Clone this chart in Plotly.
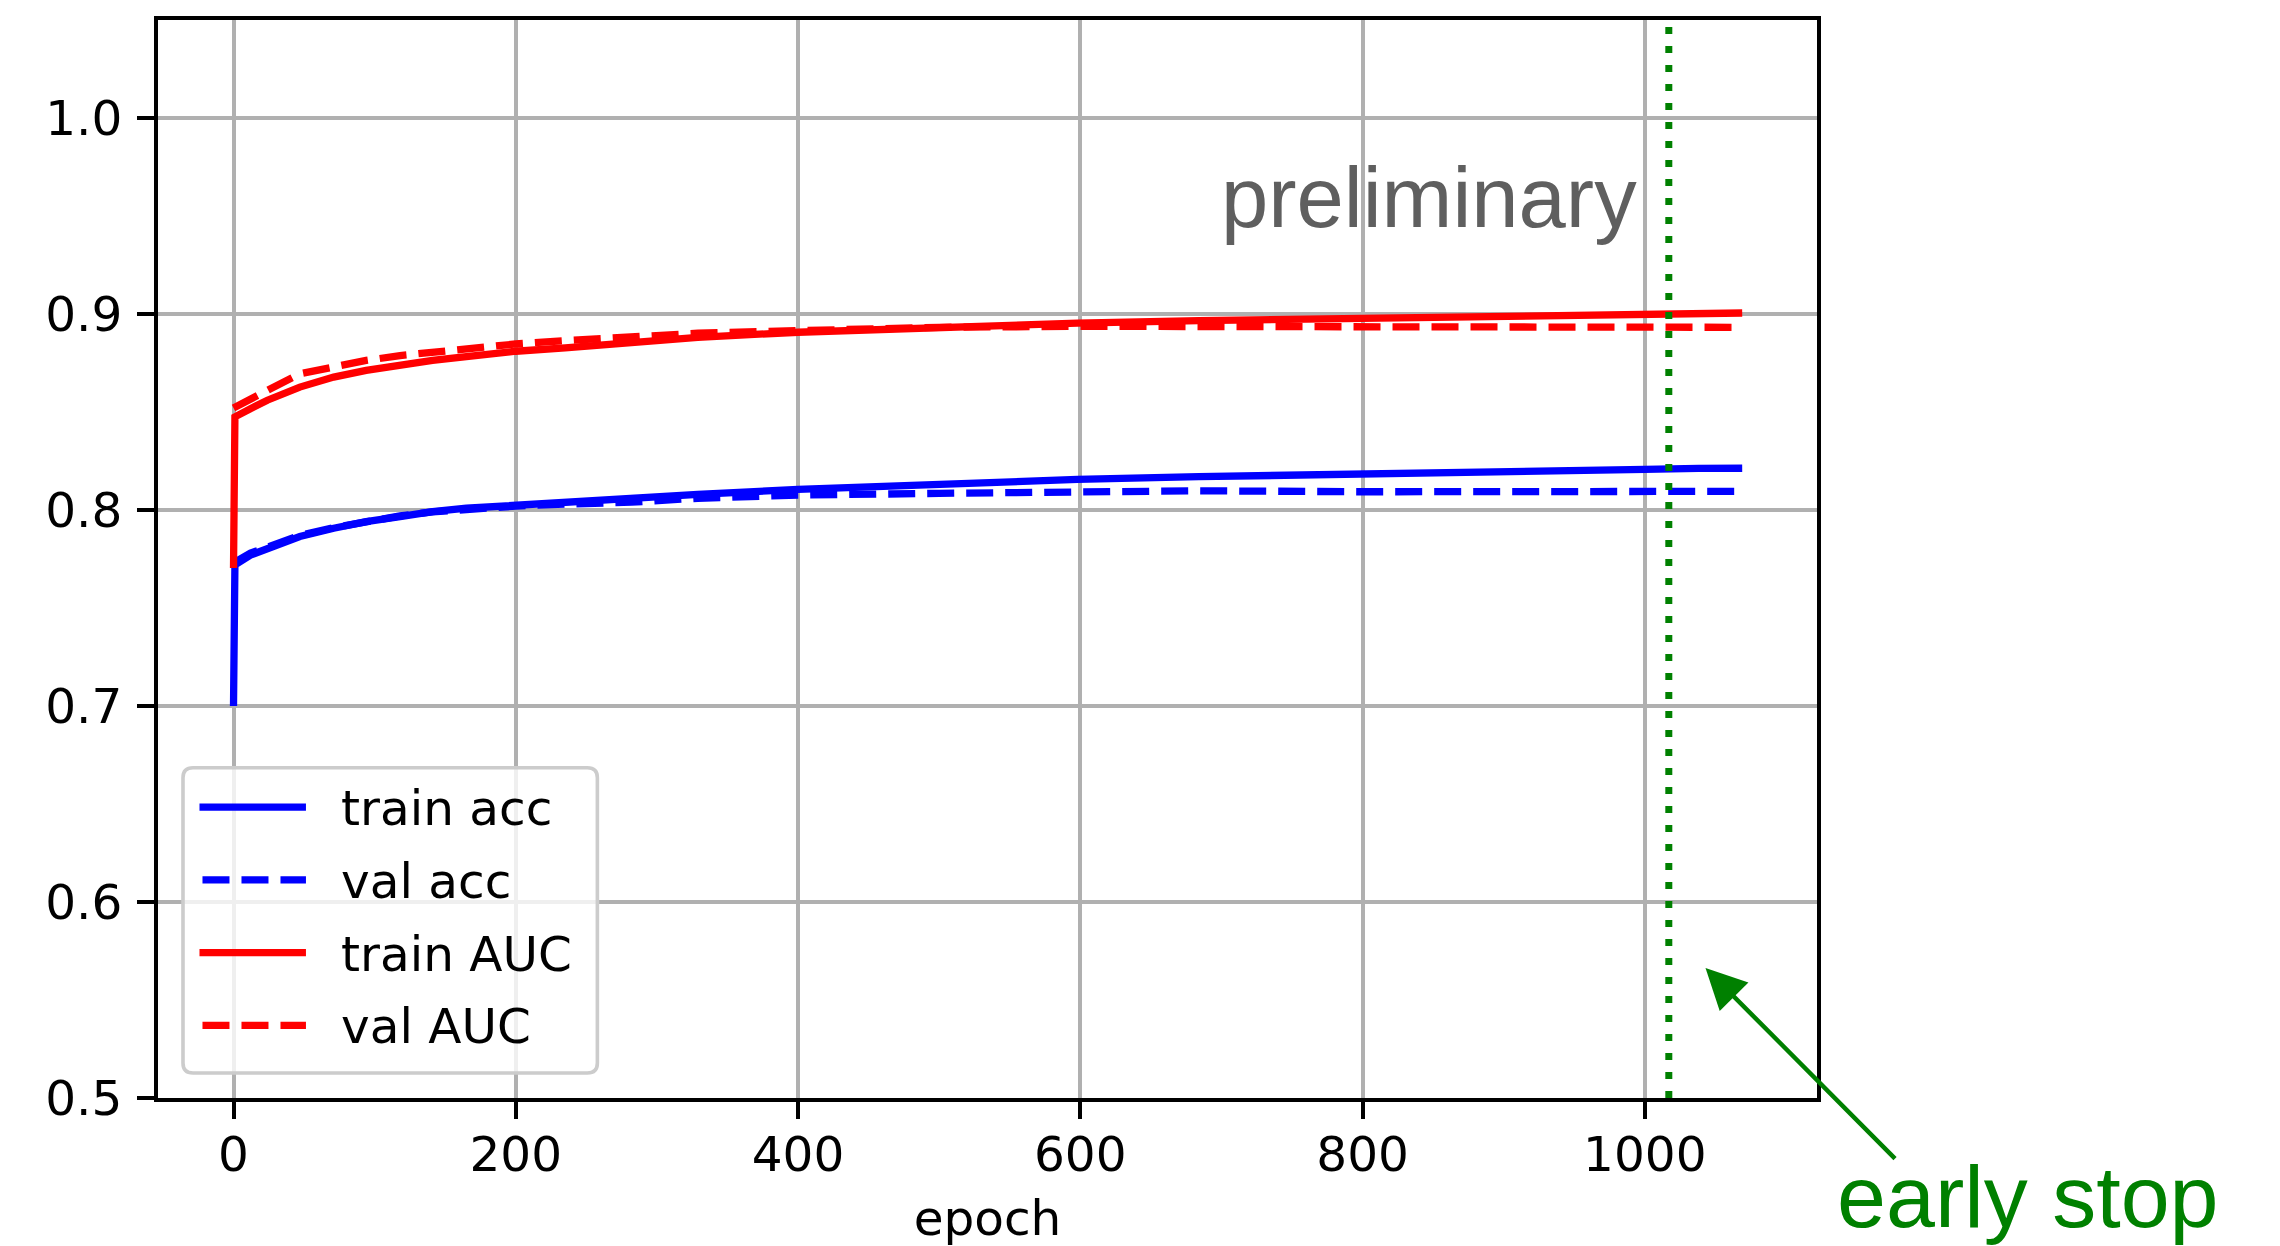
import plotly.graph_objects as go

# ---------------- data ----------------
epochs_train = [0, 1, 12, 24, 47, 71, 94, 118, 141, 165, 200, 235, 282, 329,
                400, 500, 598, 684, 800, 900, 1000, 1038, 1069]
train_acc = [0.700, 0.772, 0.777, 0.7805, 0.7865, 0.7907, 0.7941, 0.7966, 0.7992,
             0.8009, 0.8026, 0.8043, 0.8062, 0.8080, 0.8105, 0.8132, 0.8156, 0.8170,
             0.8187, 0.8197, 0.8207, 0.8212, 0.8213]
train_auc = [0.7704, 0.8475, 0.8517, 0.8560, 0.8627, 0.8678, 0.8712, 0.8741, 0.8763,
             0.8783, 0.8810, 0.8827, 0.8856, 0.8881, 0.8907, 0.8932, 0.8953, 0.8966,
             0.8980, 0.8990, 0.9000, 0.9003, 0.9005]

epochs_val = [0, 12, 24, 47, 71, 94, 118, 141, 165, 200, 235, 282, 329,
              400, 500, 598, 684, 800, 900, 1000, 1069]
val_acc = [0.773, 0.778, 0.781, 0.787, 0.791, 0.794, 0.797, 0.799, 0.8005, 0.802,
           0.803, 0.804, 0.806, 0.8076, 0.8085, 0.8093, 0.8098, 0.8093, 0.8096,
           0.8102, 0.8095]
val_auc = [0.852, 0.8568, 0.861, 0.8695, 0.8732, 0.8763, 0.8788, 0.8805, 0.8827,
           0.8847, 0.8864, 0.8885, 0.8902, 0.8915, 0.8932, 0.8937, 0.8936, 0.8936,
           0.8935, 0.8936, 0.8932]

series_names = ["train acc", "val acc", "train AUC", "val AUC"]
early_stop_epoch = 1017
x_ticks = [0, 200, 400, 600, 800, 1000]
y_ticks = [0.5, 0.6, 0.7, 0.8, 0.9, 1.0]

# ---------------- styling ----------------
W, H = 2280, 1246
PL, PR, PT, PB = 158, 1817.5, 20, 1098.3
FONT = "DejaVu Sans"
FS = 48.5
LW = 7.3
DASH = "27px,12px"
BLUE, RED, GREEN = "#0000ff", "#ff0000", "#008000"


def px_x(p):
    return (p - PL) / (PR - PL)


def px_y(p):
    return (PB - p) / (PB - PT)


fig = go.Figure()
fig.add_trace(go.Scatter(x=epochs_train, y=train_acc, mode="lines", name=series_names[0],
                         line=dict(color=BLUE, width=LW), showlegend=False))
fig.add_trace(go.Scatter(x=epochs_val, y=val_acc, mode="lines", name=series_names[1],
                         line=dict(color=BLUE, width=LW, dash=DASH), showlegend=False))
fig.add_trace(go.Scatter(x=epochs_train, y=train_auc, mode="lines", name=series_names[2],
                         line=dict(color=RED, width=LW), showlegend=False))
fig.add_trace(go.Scatter(x=epochs_val, y=val_auc, mode="lines", name=series_names[3],
                         line=dict(color=RED, width=LW, dash=DASH), showlegend=False))

shapes = []
# early stop vertical dotted line
shapes.append(dict(type="line", xref="x", yref="paper", x0=early_stop_epoch, x1=early_stop_epoch,
                   y0=0, y1=1, line=dict(color=GREEN, width=7, dash="7px,12px"), layer="above"))

# legend frame (rounded)
lx0, lx1, ly0, ly1 = 183, 597.5, 768, 1073.3
r = 10
rx = r / (PR - PL)
ry = r / (PB - PT)
X0, X1, Y0, Y1 = px_x(lx0), px_x(lx1), px_y(ly1), px_y(ly0)
path = (f"M {X0+rx},{Y0} L {X1-rx},{Y0} Q {X1},{Y0} {X1},{Y0+ry} "
        f"L {X1},{Y1-ry} Q {X1},{Y1} {X1-rx},{Y1} L {X0+rx},{Y1} "
        f"Q {X0},{Y1} {X0},{Y1-ry} L {X0},{Y0+ry} Q {X0},{Y0} {X0+rx},{Y0} Z")
shapes.append(dict(type="path", xref="paper", yref="paper", path=path,
                   fillcolor="rgba(255,255,255,0.8)", line=dict(color="#cccccc", width=3.6),
                   layer="above"))

legend_styles = [(BLUE, None), (BLUE, DASH), (RED, None), (RED, DASH)]
annotations = []
for i, (name, (col, dash)) in enumerate(zip(series_names, legend_styles)):
    yy = 807.3 + i * 72.8
    ln = dict(color=col, width=LW)
    hx0 = 199.5
    if dash:
        ln["dash"] = dash
        hx0 = 202.5
    shapes.append(dict(type="line", xref="paper", yref="paper", x0=px_x(hx0), x1=px_x(306),
                       y0=px_y(yy), y1=px_y(yy), line=ln, layer="above"))
    annotations.append(dict(text=name, xref="paper", yref="paper", x=px_x(339), y=px_y(yy + 1),
                            xanchor="left", yanchor="middle", showarrow=False,
                            font=dict(family=FONT, size=FS, color="black")))

# "preliminary"
annotations.append(dict(text="preliminary", xref="x", yref="y", x=847, y=0.9592,
                        xanchor="center", yanchor="middle", showarrow=False,
                        font=dict(family="Liberation Sans", size=85, color="#5f5f5f")))
# "early stop" + arrow
annotations.append(dict(text="early stop", xref="paper", yref="paper", x=px_x(2029), y=px_y(1197),
                        xanchor="center", yanchor="middle", showarrow=False,
                        font=dict(family="Liberation Sans", size=88, color=GREEN)))
annotations.append(dict(text="", xref="x", yref="y", x=1043, y=0.5663, ax=191, ay=192,
                        axref="pixel", ayref="pixel", showarrow=True, arrowhead=2,
                        arrowsize=1.8, arrowwidth=4.5, arrowcolor=GREEN))

axis_common = dict(showline=True, mirror=True, linecolor="black", linewidth=3.8,
                   ticks="outside", ticklen=17, tickwidth=3.8, tickcolor="black",
                   showgrid=True, gridcolor="#b0b0b0", gridwidth=3.6, zeroline=False,
                   tickfont=dict(family=FONT, size=FS, color="black"))

fig.update_layout(
    width=W, height=H,
    margin=dict(l=PL, r=W - PR, t=PT, b=H - PB, autoexpand=False),
    paper_bgcolor="white", plot_bgcolor="white",
    shapes=shapes, annotations=annotations,
    xaxis=dict(range=[-53.5, 1122], tickvals=x_ticks, ticklabelstandoff=-6,
               title=dict(text="epoch", font=dict(family=FONT, size=FS, color="black"), standoff=24),
               **axis_common),
    yaxis=dict(range=[0.5, 1.05], tickvals=y_ticks, tickformat=".1f", ticklabelstandoff=5,
               **axis_common),
)

fig.write_html("out.html", config={"displayModeBar": False},
               post_script="document.body.style.margin='0';document.body.style.overflow='hidden';")
